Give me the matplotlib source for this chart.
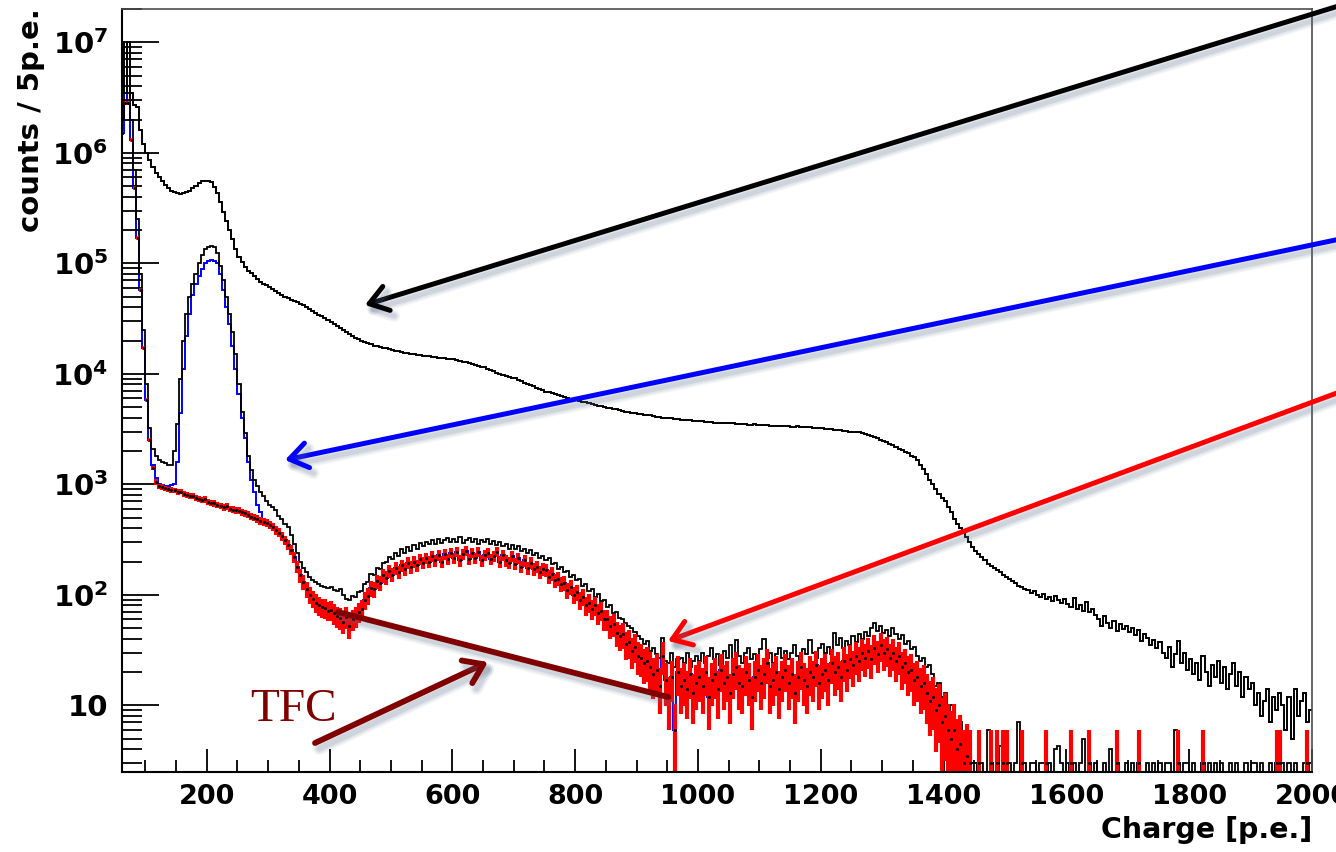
import numpy as np
import matplotlib
matplotlib.use("Agg")
import matplotlib.pyplot as plt
import matplotlib.patheffects as pe
from matplotlib.ticker import FixedLocator, LogLocator, MultipleLocator, NullFormatter

FIG_W, FIG_H = 1336, 852

# 5 p.e. bins from 60 to 2000 p.e. (first row 60-95, then one row per 50 p.e.)
bin_edges = np.arange(60, 2001, 5)

total_counts = [
    1.0e7, 3.5e6, 1.0e7, 3.5e6, 2.7e6, 2.6e6, 1.6e6, 1.2e6,
    1.0e6, 8.6e5, 7.4e5, 6.6e5, 6.0e5, 5.5e5, 5.1e5, 4.8e5, 4.55e5, 4.4e5,
    4.3e5, 4.25e5, 4.3e5, 4.4e5, 4.55e5, 4.8e5, 5.0e5, 5.3e5, 5.5e5, 5.6e5,
    5.6e5, 5.4e5, 4.9e5, 4.3e5, 3.6e5, 2.9e5, 2.4e5, 2.0e5, 1.65e5, 1.35e5,
    1.15e5, 1.02e5, 9.2e4, 8.6e4, 8.1e4, 7.6e4, 7.2e4, 6.8e4, 6.5e4, 6.3e4,
    6.1e4, 5.9e4, 5.6e4, 5.4e4, 5.2e4, 5.0e4, 4.85e4, 4.7e4, 4.6e4, 4.45e4,
    4.3e4, 4.15e4, 4.0e4, 3.85e4, 3.7e4, 3.55e4, 3.4e4, 3.3e4, 3.2e4, 3.05e4,
    2.95e4, 2.85e4, 2.7e4, 2.6e4, 2.5e4, 2.4e4, 2.3e4, 2.2e4, 2.1e4, 2.05e4,
    2.0e4, 1.95e4, 1.9e4, 1.85e4, 1.8e4, 1.77e4, 1.74e4, 1.72e4, 1.7e4, 1.68e4,
    1.65e4, 1.62e4, 1.6e4, 1.58e4, 1.55e4, 1.53e4, 1.52e4, 1.5e4, 1.49e4, 1.48e4,
    1.46e4, 1.45e4, 1.44e4, 1.42e4, 1.41e4, 1.4e4, 1.39e4, 1.38e4, 1.37e4, 1.36e4,
    1.35e4, 1.33e4, 1.31e4, 1.29e4, 1.27e4, 1.25e4, 1.23e4, 1.2e4, 1.18e4, 1.16e4,
    1.14e4, 1.11e4, 1.08e4, 1.05e4, 1.02e4, 1.0e4, 9.8e3, 9.6e3, 9.4e3, 9.2e3,
    9.1e3, 8.8e3, 8.6e3, 8.3e3, 8.1e3, 7.9e3, 7.7e3, 7.5e3, 7.3e3, 7.1e3,
    6.9e3, 6.8e3, 6.7e3, 6.5e3, 6.4e3, 6.3e3, 6.1e3, 6.0e3, 5.9e3, 5.85e3,
    5.8e3, 5.7e3, 5.6e3, 5.5e3, 5.45e3, 5.35e3, 5.25e3, 5.15e3, 5.1e3, 5.0e3,
    4.95e3, 4.9e3, 4.8e3, 4.75e3, 4.7e3, 4.6e3, 4.55e3, 4.5e3, 4.45e3, 4.4e3,
    4.35e3, 4.3e3, 4.25e3, 4.2e3, 4.2e3, 4.15e3, 4.1e3, 4.05e3, 4.0e3, 4.0e3,
    3.95e3, 3.95e3, 3.9e3, 3.9e3, 3.85e3, 3.85e3, 3.8e3, 3.8e3, 3.75e3, 3.75e3,
    3.7e3, 3.72e3, 3.68e3, 3.66e3, 3.65e3, 3.62e3, 3.6e3, 3.62e3, 3.58e3, 3.56e3,
    3.55e3, 3.56e3, 3.52e3, 3.5e3, 3.52e3, 3.48e3, 3.47e3, 3.46e3, 3.48e3, 3.44e3,
    3.43e3, 3.42e3, 3.44e3, 3.4e3, 3.38e3, 3.4e3, 3.37e3, 3.36e3, 3.35e3, 3.36e3,
    3.33e3, 3.32e3, 3.34e3, 3.3e3, 3.28e3, 3.3e3, 3.27e3, 3.25e3, 3.24e3, 3.22e3,
    3.2e3, 3.18e3, 3.17e3, 3.15e3, 3.12e3, 3.1e3, 3.08e3, 3.05e3, 3.02e3, 3.0e3,
    3.0e3, 2.98e3, 2.95e3, 2.92e3, 2.88e3, 2.82e3, 2.75e3, 2.68e3, 2.6e3, 2.52e3,
    2.45e3, 2.4e3, 2.32e3, 2.25e3, 2.17e3, 2.1e3, 2.03e3, 1.96e3, 1.9e3, 1.82e3,
    1.75e3, 1.65e3, 1.5e3, 1.38e3, 1.25e3, 1.1e3, 1.0e3, 900, 820, 750,
    700, 620, 560, 490, 440, 400, 370, 330, 300, 270,
    250, 235, 220, 205, 190, 182, 175, 168, 160, 152,
    145, 140, 132, 128, 120, 118, 112, 110, 104, 108,
    100, 96, 102, 92, 95, 88, 98, 90, 84, 92,
    82, 78, 93, 75, 80, 72, 86, 70, 74, 66,
    60, 52, 64, 55, 50, 58, 47, 54, 49, 52,
    46, 50, 43, 48, 38, 44, 41, 35, 39, 33,
    37, 30, 27, 34, 22, 29, 38, 24, 30, 21,
    26, 19, 24, 17, 28, 20, 15, 23, 18, 25,
    16, 22, 14, 19, 24, 15, 20, 12, 18, 14,
    16, 10, 13, 8, 11, 14, 7, 12, 9, 13,
    10, 6, 12, 5, 14, 8, 11, 13, 7, 9,
]

coinc_counts = [
    2.0e6, 3.5e6, 3.5e6, 2.0e6, 7.0e5, 2.5e5, 8.0e4, 2.5e4,
    8.0e3, 3.2e3, 2.1e3, 1.8e3, 1.65e3, 1.6e3, 1.55e3, 1.5e3, 1.5e3, 2.0e3,
    3.5e3, 9.0e3, 2.0e4, 3.5e4, 5.0e4, 6.5e4, 8.0e4, 1.0e5, 1.2e5, 1.35e5,
    1.4e5, 1.42e5, 1.4e5, 1.25e5, 9.5e4, 7.0e4, 5.0e4, 3.5e4, 2.4e4, 1.5e4,
    8.0e3, 4.5e3, 2.9e3, 1.8e3, 1.35e3, 1.1e3, 960, 860, 780, 700,
    650, 620, 590, 520, 480, 440, 410, 350, 290, 240,
    200, 175, 160, 145, 135, 130, 125, 120, 118, 115,
    118, 110, 108, 112, 100, 92, 90, 98, 95, 105,
    108, 125, 130, 155, 150, 175, 172, 195, 200, 220,
    212, 240, 225, 258, 240, 268, 250, 285, 262, 295,
    275, 300, 290, 310, 290, 320, 295, 315, 325, 298,
    318, 300, 330, 295, 315, 325, 300, 320, 290, 315,
    300, 320, 290, 305, 280, 300, 275, 290, 262, 280,
    260, 275, 250, 262, 240, 255, 228, 238, 215, 225,
    205, 215, 190, 195, 172, 180, 160, 165, 145, 150,
    135, 140, 120, 125, 108, 112, 96, 102, 88, 90,
    78, 80, 68, 70, 62, 60, 56, 52, 50, 46,
    42, 40, 36, 38, 31, 33, 29, 27, 41, 25,
    24, 30, 22, 26, 27, 24, 30, 22, 25, 28,
    25, 30, 24, 28, 33, 26, 29, 23, 31, 27,
    35, 25, 39, 28, 24, 30, 33, 26, 29, 25,
    32, 40, 27, 30, 24, 29, 33, 27, 31, 26,
    30, 35, 28, 25, 32, 29, 39, 30, 27, 33,
    36, 30, 34, 29, 45, 35, 41, 33, 38, 35,
    42, 37, 44, 40, 46, 42, 50, 55, 47, 52,
    45, 48, 42, 50, 44, 40, 43, 36, 38, 32,
    34, 28, 25, 27, 22, 23, 19, 15, 16, 12,
    13, 9, 10, 7, 6, 7, 4, 5, 3, 3,
    3, 0, 3, 0, 6, 3, 0, 3, 4.3, 3,
    0, 3, 0, 3, 7, 0, 3, 0, 3, 3,
    0, 3, 3, 0, 3, 0, 4, 4.3, 3, 0,
    3, 0, 3, 0, 3, 5, 0, 3, 0, 3,
    0, 0, 3, 0, 4, 0, 3, 0, 0, 3,
    0, 3, 0, 3, 0, 0, 3, 0, 3, 0,
    3, 0, 3, 3, 0, 6, 3, 0, 3, 3,
    0, 3, 0, 0, 3, 0, 3, 0, 3, 0,
    3, 0, 0, 3, 0, 3, 0, 0, 3, 0,
    3, 3, 0, 3, 0, 0, 3, 0, 3, 0,
    3, 0, 3, 0, 3, 0, 0, 3, 0, 3,
]

red_counts = [
    1.5e6, 2.8e6, 2.8e6, 1.3e6, 4.8e5, 1.7e5, 5.7e4, 1.7e4,
    5.8e3, 2.5e3, 1.4e3, 1.05e3, 960, 950, 920, 900, 890, 880,
    850, 860, 820, 800, 780, 790, 750, 740, 720, 730,
    690, 680, 670, 650, 640, 620, 630, 600, 590, 580,
    575, 560, 545, 530, 510, 500, 485, 470, 455, 445,
    430, 410, 385, 365, 340, 310, 285, 255, 220, 180,
    150, 130, 112, 100, 92, 85, 80, 77, 76, 72,
    73, 68, 64, 62, 57, 63, 52, 60, 64, 70,
    74, 90, 98, 115, 112, 132, 128, 150, 142, 165,
    152, 175, 160, 185, 170, 195, 178, 200, 185, 210,
    195, 215, 200, 225, 205, 230, 200, 235, 210, 240,
    215, 245, 205, 235, 250, 210, 240, 215, 245, 205,
    230, 240, 210, 225, 245, 200, 230, 205, 195, 225,
    190, 215, 180, 205, 175, 195, 170, 180, 160, 170,
    168, 145, 155, 135, 140, 125, 128, 110, 118, 100,
    105, 90, 96, 80, 85, 74, 80, 68, 72, 60,
    60, 52, 54, 45, 42, 44, 36, 37, 31, 34,
    28, 27, 24, 25, 22, 19, 21, 15, 28, 17,
    12, 18, 6, 20, 15, 17, 14, 19, 13, 16,
    18, 15, 20, 12, 17, 19, 14, 21, 16, 18,
    13, 19, 22, 16, 15, 20, 17, 12, 18, 21,
    16, 19, 24, 15, 17, 20, 14, 18, 21, 16,
    19, 13, 18, 22, 17, 15, 20, 18, 23, 16,
    19, 21, 17, 24, 20, 22, 18, 25, 21, 26,
    23, 28, 25, 30, 27, 31, 26, 33, 29, 35,
    30, 32, 27, 30, 25, 28, 22, 24, 20, 21,
    17, 18, 15, 16, 13, 11, 12, 9, 10, 7,
    8, 6, 5, 6, 4, 4.5, 3, 3.5, 3, 0,
    0, 3, 0, 0, 0, 3, 0, 3, 0, 3,
    3, 0, 0, 0, 0, 3, 0, 0, 0, 0,
    0, 0, 0, 3, 0, 0, 0, 0, 0, 0,
    0, 3, 0, 0, 0, 0, 0, 3, 0, 0,
    0, 0, 0, 0, 0, 0, 3, 0, 0, 0,
    0, 0, 0, 3, 0, 0, 0, 0, 0, 0,
    0, 0, 0, 0, 0, 0, 3, 0, 0, 0,
    0, 0, 0, 0, 3, 0, 0, 0, 0, 0,
    0, 0, 0, 0, 0, 0, 0, 0, 0, 0,
    0, 0, 0, 0, 0, 0, 0, 0, 3, 3,
    0, 0, 0, 0, 0, 0, 0, 0, 3, 0,
]

# blue differs from red only below 330 p.e.; above that it lies under the red points
blue_low = [
    1.5e6, 2.8e6, 1.0e7, 1.3e6, 4.8e5, 1.7e5, 5.7e4, 1.7e4,
    5.8e3, 2.5e3, 1.5e3, 1.15e3, 1.0e3, 980, 960, 970, 980, 1.0e3,
    1.6e3, 4.4e3, 1.1e4, 2.2e4, 3.5e4, 5.2e4, 6.5e4, 7.6e4, 8.8e4, 1.0e5,
    1.05e5, 1.06e5, 1.05e5, 1.0e5, 8.0e4, 5.7e4, 4.0e4, 2.8e4, 1.8e4, 1.1e4,
    6.5e3, 4.0e3, 2.6e3, 1.6e3, 1.1e3, 850, 650, 560, 480, 450,
    430, 410, 385, 365, 340, 310,
]
blue_counts = blue_low + red_counts[len(blue_low):]

y_major = [10, 1e2, 1e3, 1e4, 1e5, 1e6, 1e7]
y_labels = ["10", r"$\mathbf{10^{2}}$", r"$\mathbf{10^{3}}$", r"$\mathbf{10^{4}}$",
            r"$\mathbf{10^{5}}$", r"$\mathbf{10^{6}}$", r"$\mathbf{10^{7}}$"]
x_major = [200, 400, 600, 800, 1000, 1200, 1400, 1600, 1800, 2000]
x_labels = [str(v) for v in x_major]

X_MIN, X_MAX = 62, 2000
Y_MIN, Y_MAX = 2.49, 2.0e7


def on_floor(values):
    # empty bins sit on the bottom of the frame, like in ROOT
    v = np.asarray(values, dtype=float)
    return np.where(v > 0, v, Y_MIN)


def px(x, y):
    # reference pixel position (from top-left) -> figure pixels
    return (x, FIG_H - y)


def soft_shadow(lw):
    # a few widening, faint copies fake the blurred slide shadow
    kw = dict(offset=(3, -4), shadow_color="#5a6f8c", rho=1.0)
    return [pe.SimpleLineShadow(alpha=0.08, linewidth=lw + 5, **kw),
            pe.SimpleLineShadow(alpha=0.10, linewidth=lw + 2.5, **kw),
            pe.SimpleLineShadow(alpha=0.14, linewidth=lw, **kw),
            pe.Normal()]


fig = plt.figure(figsize=(FIG_W / 100, FIG_H / 100), dpi=100)
ax = fig.add_axes([122 / FIG_W, 80 / FIG_H, 1190 / FIG_W, 763 / FIG_H])

ax.stairs(on_floor(blue_counts), bin_edges, color="#0000ff", lw=1.4, baseline=None)

red = np.asarray(red_counts, dtype=float)
centers = 0.5 * (bin_edges[:-1] + bin_edges[1:])
filled = red > 0
err = np.sqrt(3.0 * red[filled])
low = np.maximum(red[filled] - err, Y_MIN * 0.5)
ax.vlines(centers[filled], low, red[filled] + err, color="#ff0000", lw=3.0)
ax.hlines(red[filled], bin_edges[:-1][filled], bin_edges[1:][filled], color="#ff0000", lw=2.6)
ax.plot(centers[filled], red[filled], ls="none", marker="o", ms=1.2, color="black")

ax.stairs(on_floor(coinc_counts), bin_edges, color="black", lw=1.3, baseline=None)
ax.stairs(on_floor(total_counts), bin_edges, color="black", lw=1.4, baseline=None)

ax.set_yscale("log")
ax.set_xlim(X_MIN, X_MAX)
ax.set_ylim(Y_MIN, Y_MAX)

ax.yaxis.set_major_locator(FixedLocator(y_major))
ax.set_yticklabels(y_labels)
ax.yaxis.set_minor_locator(LogLocator(base=10, subs=np.arange(2, 10)))
ax.yaxis.set_minor_formatter(NullFormatter())
ax.xaxis.set_major_locator(FixedLocator(x_major))
ax.set_xticklabels(x_labels)
ax.xaxis.set_minor_locator(MultipleLocator(50))

ax.tick_params(axis="y", which="major", direction="in", length=26.5, width=1.3,
               pad=10, labelsize=21)
ax.tick_params(axis="y", which="minor", direction="in", length=14.5, width=1.3)
ax.tick_params(axis="x", which="major", direction="in", length=16.5, width=1.3,
               pad=9, labelsize=19.5)
ax.tick_params(axis="x", which="minor", direction="in", length=8.5, width=1.3)
for lab in ax.get_xticklabels() + ax.get_yticklabels():
    lab.set_fontweight("bold")

for side in ("left", "bottom"):
    ax.spines[side].set_linewidth(1.5)
    ax.spines[side].set_color("black")
for side in ("top", "right"):
    ax.spines[side].set_linewidth(1.2)
    ax.spines[side].set_color("#4d4d4d")

fig.text(1312 / FIG_W, 1 - 838 / FIG_H, "Charge [p.e.]", ha="right", va="baseline",
         fontsize=20.5, fontweight="bold")
fig.text(31 / FIG_W, 1 - 8 / FIG_H, "counts / 5p.e.", ha="center", va="top",
         rotation=90, fontsize=21, fontweight="bold")

arrows = [
    ((1345, 4), (365, 305), "black", 3.6),
    ((1345, 238), (285, 460), "#0000ff", 3.6),
    ((1345, 390), (668, 641), "#ff0000", 3.6),
    ((315, 743), (488, 662), "#800000", 4.2),
]
for tail, tip, color, lw in arrows:
    ax.annotate("", xy=px(*tip), xycoords="figure pixels",
                xytext=px(*tail), textcoords="figure pixels", annotation_clip=False,
                arrowprops=dict(arrowstyle="->,head_length=0.65,head_width=0.45",
                                mutation_scale=20, lw=lw, color=color,
                                shrinkA=0, shrinkB=0, path_effects=soft_shadow(lw)))

ax.annotate("", xy=px(668, 697), xycoords="figure pixels",
            xytext=px(338, 612), textcoords="figure pixels", annotation_clip=False,
            arrowprops=dict(arrowstyle="-", lw=4.2, color="#800000",
                            shrinkA=0, shrinkB=0, path_effects=soft_shadow(4.2)))

fig.text(250 / FIG_W, 1 - 721 / FIG_H, "TFC", ha="left", va="baseline",
         fontsize=34, color="#800000", family="Liberation Serif")

fig.savefig("out.png", dpi=100)
